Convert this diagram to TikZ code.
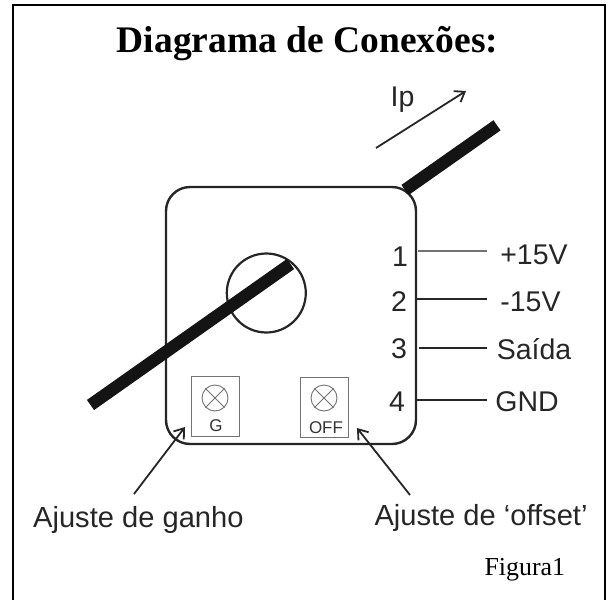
\documentclass[tikz,border=0pt]{standalone}
\usepackage{fontspec}
\setmainfont{Liberation Serif}
\setsansfont{Liberation Sans}
\usetikzlibrary{arrows.meta}
\begin{document}
\begin{tikzpicture}[x=1pt,y=-1pt,
  lab/.style={font=\sffamily\fontsize{28.5}{32}\selectfont,inner sep=0pt,text=black!85},
  bigl/.style={font=\sffamily\fontsize{29.1}{32}\selectfont,inner sep=0pt,text=black!85,anchor=base west},
  conn/.style={line width=1.5pt,black!85},
  cable/.style={line width=12.4pt,black!92},
  pot/.style={draw=black!55,line width=.9pt,fill=white},
  note/.style={-{Straight Barb[length=9pt,width=13pt,line width=1.8pt]},line width=1.8pt,black!85}]
\useasboundingbox (0,0) rectangle (608,600);
\draw[line width=2.6pt] (13,600) -- (13,5) -- (605,5) -- (605,600);
\node[font=\bfseries\fontsize{37.5}{42}\selectfont,inner sep=0pt,anchor=base] (title) at (307.5,52.7) {Diagrama de Conexões:};
\coordinate (ca) at (90.5,405); \coordinate (cb) at (290.5,264);
\coordinate (cc) at (405,190); \coordinate (cd) at (497,125.3);
\draw[line width=2.4pt,black!85,rounded corners=24pt] (166,187) rectangle (416,444);
\node[circle,draw=black!85,line width=2.2pt,minimum size=79pt,inner sep=0pt] (hole) at (266.3,293) {};
\draw[cable] (ca) -- (cb);
\draw[cable] (cc) -- (cd);
\node[lab] (ip) at (402.5,99.5) {Ip};
\coordinate (ia) at (376,148); \coordinate (ib) at (466,91);
\draw[note] (ia) -- (ib);
\foreach \n/\y/\sx/\nx/\ny/\ty/\t/\x/\c in {1/251/418/400/257/254.5/+15V/534/black!55,2/299/417/399/302/301.5/-15V/530.5/black!85,3/348/419/399/349/349.5/Saída/534/black!85,4/400/417/397/402/401.7/GND/527/black!85}{
  \node[lab] (n\n) at (\nx,\ny) {\n};
  \node[lab] (t\n) at (\x,\ty) {\t};
  \coordinate (s\n) at (\sx,\y);
  \coordinate (e\n) at (487,\y);
  \draw[conn,draw=\c] (s\n) -- (e\n);
}
\node[pot,minimum width=48pt,minimum height=60pt,inner sep=0pt] (g) at (215,406) {};
\node[pot,minimum width=48pt,minimum height=60pt,inner sep=0pt] (off) at (324.5,407) {};
\foreach \c/\x in {a/215,b/324}{
  \node[circle,draw=black!55,line width=.9pt,minimum size=26pt,inner sep=0pt] (k\c) at (\x,398) {};
  \draw[black!55,line width=.9pt] (k\c.north west) -- (k\c.south east) (k\c.north east) -- (k\c.south west);
}
\node[font=\sffamily\fontsize{17}{18}\selectfont,inner sep=0pt,text=black!80] (gl) at (216,425.5) {G};
\node[font=\sffamily\fontsize{17}{18}\selectfont,inner sep=0pt,text=black!80] (ol) at (326,428) {OFF};
\node[bigl] (aj1) at (33,527.7) {Ajuste de ganho};
\node[bigl] (aj2) at (374.3,525) {Ajuste de ‘offset’};
\coordinate (s1) at (134,494); \coordinate (s2) at (410,495);
\coordinate (t1) at (185,427); \coordinate (t2) at (357,428);
\draw[note] (s1) -- (t1);
\draw[note] (s2) -- (t2);
\node[font=\fontsize{25.9}{30}\selectfont,inner sep=0pt,anchor=base west] (fig) at (484.3,575) {Figura1};
\end{tikzpicture}
\end{document}
